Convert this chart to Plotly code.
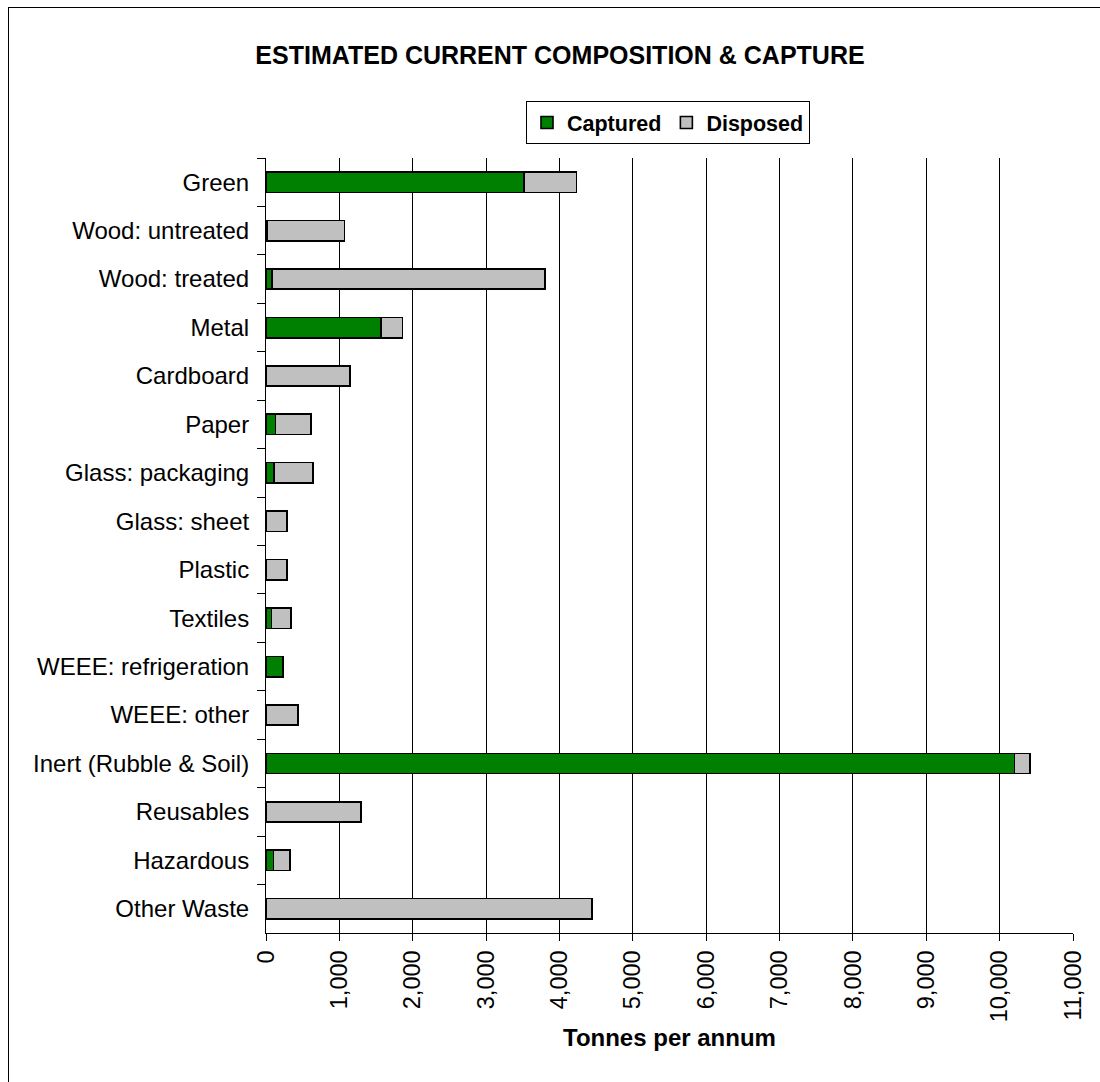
import plotly.graph_objects as go

categories = ["Green", "Wood: untreated", "Wood: treated", "Metal", "Cardboard", "Paper",
              "Glass: packaging", "Glass: sheet", "Plastic", "Textiles", "WEEE: refrigeration",
              "WEEE: other", "Inert (Rubble & Soil)", "Reusables", "Hazardous", "Other Waste"]
captured = [3520, 20, 85, 1570, None, 130, 105, None, None, 75, 235, None, 10200, None, 100, None]
disposed = [710, 1050, 3715, 290, 1145, 485, 537, 283, 288, 262, None, 438, 210, 1295, 230, 4440]
x_ticks = list(range(0, 11001, 1000))

FONT = "Liberation Sans, Arial, sans-serif"
W, H = 1100, 1082
L, R, T, B = 266, 1100 - 1073, 158, 1082 - 933
pw, ph = W - L - R, H - T - B

fig = go.Figure()
fig.add_trace(go.Bar(name="Captured", y=categories, x=captured, orientation="h",
                     marker=dict(color="#008000", line=dict(color="#000000", width=1.6)),
                     width=0.42))
fig.add_trace(go.Bar(name="Disposed", y=categories, x=disposed, orientation="h",
                     marker=dict(color="#C0C0C0", line=dict(color="#000000", width=1.6)),
                     width=0.42))

fig.update_layout(
    width=W, height=H,
    margin=dict(l=L, r=R, t=T, b=B),
    barmode="stack",
    plot_bgcolor="white", paper_bgcolor="white",
    font=dict(family=FONT, color="#000000", size=22),
    title=dict(text="<b>ESTIMATED CURRENT COMPOSITION &amp; CAPTURE</b>",
               x=560 / W, xanchor="center", y=1 - 55 / H, yanchor="middle",
               font=dict(size=25, family=FONT, color="#000000")),
    showlegend=True,
    legend=dict(orientation="h", x=(668 - L) / pw, xanchor="center",
                y=(933 - 101) / ph, yanchor="top",
                bordercolor="#000000", borderwidth=1, bgcolor="white",
                font=dict(size=21.5, family=FONT, color="#000000", weight="bold"),
                traceorder="normal", itemwidth=30),
    xaxis=dict(range=[0, 11000], tickvals=x_ticks, tickformat=",", tickangle=-90,
               showgrid=True, gridcolor="#000000", gridwidth=1,
               showline=True, linecolor="#000000", linewidth=1,
               ticks="outside", ticklen=7, tickcolor="#000000",
               tickfont=dict(size=23.5), zeroline=False, fixedrange=True),
    yaxis=dict(categoryorder="array", categoryarray=categories, autorange="reversed",
               showline=True, linecolor="#000000", linewidth=1,
               ticks="outside", ticklen=8, tickcolor="#000000", tickson="boundaries",
               tickfont=dict(size=24), showgrid=False, fixedrange=True,
               ticklabelstandoff=11),
    annotations=[dict(text="<b>Tonnes per annum</b>", xref="paper", yref="paper",
                      x=(669 - L) / pw, y=(933 - 1037) / ph, xanchor="center", yanchor="middle",
                      showarrow=False, font=dict(size=24, family=FONT, color="#000000"))],
    shapes=[
        dict(type="line", xref="paper", yref="paper",
             x0=(8 - L) / pw, x1=(1110 - L) / pw, y0=(933 - 7.5) / ph, y1=(933 - 7.5) / ph,
             line=dict(color="#000000", width=1), layer="below"),
        dict(type="line", xref="paper", yref="paper",
             x0=(8.5 - L) / pw, x1=(8.5 - L) / pw, y0=(933 - 7) / ph, y1=(933 - 1095) / ph,
             line=dict(color="#000000", width=1), layer="below"),
    ],
)

fig.write_html("out.html")
